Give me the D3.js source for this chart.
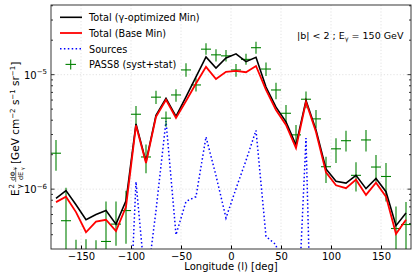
<!DOCTYPE html>
<html>
<head>
<meta charset="utf-8">
<script src="https://cdn.jsdelivr.net/npm/d3@7"></script>
<style>
  body { margin: 0; background: #fff; }
  svg { display: block; font-family: "DejaVu Sans", sans-serif; }
</style>
</head>
<body>
<svg id="chart" width="417" height="278"></svg>
<script>
// Longitude bin centres (deg)
const lon = [-175, -165, -155, -145, -135, -125, -115, -105, -95, -85, -75, -65, -55, -45, -35, -25, -15, -5,
             5, 15, 25, 35, 45, 55, 65, 75, 85, 95, 105, 115, 125, 135, 145, 155, 165, 175];

// Total (gamma-optimized Min)
const totalGamma = [8.3e-7, 9.7e-7, 7.3e-7, 5.4e-7, 6.0e-7, 6.5e-7, 4.95e-7, 7.9e-7, 3.71e-6, 1.73e-6, 4.41e-6, 6.2e-6,
                    4.32e-6, 6.39e-6, 9.55e-6, 1.43e-5, 1.14e-5, 1.40e-5, 1.52e-5, 1.30e-5, 1.42e-5, 7.8e-6, 5.2e-6, 3.87e-6,
                    2.43e-6, 5.96e-6, 3.29e-6, 1.50e-6, 1.17e-6, 1.13e-6, 1.32e-6, 1.01e-6, 1.24e-6, 9.5e-7, 4.8e-7, 6.2e-7];

// Total (Base Min)
const totalBase = [7.7e-7, 8.6e-7, 6.3e-7, 4.2e-7, 5.2e-7, 5.4e-7, 4.3e-7, 7.0e-7, 3.6e-6, 1.69e-6, 4.28e-6, 6.02e-6,
                   4.19e-6, 5.89e-6, 8.38e-6, 1.17e-5, 9.17e-6, 1.06e-5, 1.08e-5, 1.05e-5, 1.19e-5, 7.35e-6, 4.92e-6, 3.64e-6,
                   2.28e-6, 5.78e-6, 3.16e-6, 1.40e-6, 1.08e-6, 1.02e-6, 1.21e-6, 8.9e-7, 1.14e-6, 8.6e-7, 4.07e-7, 5.4e-7];

// Sources (many bins lie below the plotted range)
const sources = [1e-9, 1e-9, 1e-9, 1e-9, 1e-9, 1e-9, 1e-9, 1.3e-8, 1.16e-6, 1.3e-7, 6.5e-7, 3.94e-6,
                 3.99e-7, 7.8e-7, 8.6e-7, 2.86e-6, 1.31e-6, 5.6e-7, 1.01e-6, 1.78e-6, 3.26e-6, 3.86e-7, 3.27e-7, 1.3e-7,
                 3.4e-8, 2.79e-6, 1e-9, 1e-9, 1e-9, 1e-9, 1e-9, 1e-9, 1e-9, 1e-9, 1e-9, 1e-9];

// PASS8 (syst+stat): central value, upper and lower edge of the error bar
const pass8 = [2.06e-6, 5.3e-7, 1.5e-7, 1.5e-7, 1.5e-7, 3.49e-7, 4.95e-7, 6.5e-7, 4.51e-6, 1.91e-6, 6.36e-6, 4.17e-6,
               6.65e-6, 1.10e-5, 8.13e-6, 1.67e-5, 1.49e-5, 1.46e-5, 1.10e-5, 1.36e-5, 1.72e-5, 1.12e-5, 7.35e-6, 4.6e-6,
               2.98e-6, 6.1e-6, 4.11e-6, 1.57e-6, 2.25e-6, 2.65e-6, 1.32e-6, 2.69e-6, 1.56e-6, 1.29e-6, 4.53e-7, 4.91e-7];
const pass8Hi = [2.69e-6, 1.03e-6, 3.61e-7, 3.65e-7, 3.57e-7, 7.8e-7, 7.8e-7, 9.66e-7, 5.33e-6, 2.46e-6, 7.24e-6, 4.76e-6,
                 7.46e-6, 1.26e-5, 9.3e-6, 1.88e-5, 1.67e-5, 1.64e-5, 1.24e-5, 1.52e-5, 1.94e-5, 1.28e-5, 8.51e-6, 5.44e-6,
                 3.64e-6, 7.11e-6, 4.92e-6, 1.92e-6, 2.79e-6, 3.23e-6, 1.72e-6, 3.29e-6, 1.99e-6, 1.69e-6, 7.05e-7, 7.74e-7];
const pass8Lo = [1.45e-6, 1e-8, 1e-8, 1e-8, 1e-8, 1e-8, 3.2e-7, 3.34e-7, 3.64e-6, 1.38e-6, 5.55e-6, 3.5e-6,
                 5.81e-6, 9.61e-6, 7.11e-6, 1.49e-5, 1.3e-5, 1.3e-5, 9.61e-6, 1.22e-5, 1.52e-5, 9.75e-6, 6.1e-6, 3.77e-6,
                 2.36e-6, 5.09e-6, 3.4e-6, 1.13e-6, 1.69e-6, 2.13e-6, 9.53e-7, 2.13e-6, 1.16e-6, 7.8e-7, 1e-8, 1e-8];
const binHalfWidth = 5;

const xTicks = [-150, -100, -50, 0, 50, 100, 150];
const yMajor = [1e-6, 1e-5];
const yMinor = [4e-7, 5e-7, 6e-7, 7e-7, 8e-7, 9e-7, 2e-6, 3e-6, 4e-6, 5e-6, 6e-6, 7e-6, 8e-6, 9e-6, 2e-5, 3e-5, 4e-5];

const margin = { left: 51, right: 411, top: 5, bottom: 249 };
const svg = d3.select("#chart");

const x = d3.scaleLinear().domain([-180, 180]).range([margin.left, margin.right]);
const y = d3.scaleLog().domain([3.0e-7, 4.06e-5]).range([margin.bottom, margin.top]);

svg.append("defs").append("clipPath").attr("id", "plotClip")
  .append("rect")
  .attr("x", margin.left).attr("y", margin.top)
  .attr("width", margin.right - margin.left).attr("height", margin.bottom - margin.top);

// Grid
const grid = svg.append("g").attr("stroke", "#d0d0d0").attr("stroke-width", 0.6).attr("stroke-dasharray", "1.2,2");
grid.selectAll(".gx").data(xTicks).join("line")
  .attr("x1", d => x(d)).attr("x2", d => x(d))
  .attr("y1", margin.top).attr("y2", margin.bottom);
grid.selectAll(".gy").data(yMajor).join("line")
  .attr("y1", d => y(d)).attr("y2", d => y(d))
  .attr("x1", margin.left).attr("x2", margin.right);

const plot = svg.append("g").attr("clip-path", "url(#plotClip)");

// Sources (dotted blue)
plot.append("path")
  .datum(sources)
  .attr("fill", "none").attr("stroke", "blue").attr("stroke-width", 1.5)
  .attr("stroke-dasharray", "1.5,2.4")
  .attr("d", d3.line().x((d, i) => x(lon[i])).y(d => y(d)));

// PASS8 error bars
const pts = plot.append("g").attr("stroke", "green").attr("stroke-width", 1.1);
pts.selectAll(".ev").data(pass8).join("line")
  .attr("x1", (d, i) => x(lon[i])).attr("x2", (d, i) => x(lon[i]))
  .attr("y1", (d, i) => y(pass8Hi[i])).attr("y2", (d, i) => y(pass8Lo[i]));
pts.selectAll(".eh").data(pass8).join("line")
  .attr("x1", (d, i) => x(lon[i] - binHalfWidth)).attr("x2", (d, i) => x(lon[i] + binHalfWidth))
  .attr("y1", d => y(d)).attr("y2", d => y(d));

// Totals
plot.append("path")
  .datum(totalGamma)
  .attr("fill", "none").attr("stroke", "black").attr("stroke-width", 1.6)
  .attr("d", d3.line().x((d, i) => x(lon[i])).y(d => y(d)));
plot.append("path")
  .datum(totalBase)
  .attr("fill", "none").attr("stroke", "red").attr("stroke-width", 1.8)
  .attr("d", d3.line().x((d, i) => x(lon[i])).y(d => y(d)));

// Axes (ticks pointing inward)
const xAxis = svg.append("g").attr("transform", `translate(0,${margin.bottom})`)
  .call(d3.axisBottom(x).tickValues(xTicks).tickSizeInner(-3.5).tickSizeOuter(0).tickPadding(3.5));
xAxis.select(".domain").remove();
xAxis.selectAll("text").attr("font-size", 10).attr("font-family", "DejaVu Sans").attr("fill", "#000");

function yTicksOn(xPos, dir) {
  const g = svg.append("g").attr("stroke", "#000").attr("stroke-width", 0.8);
  g.selectAll(".maj").data(yMajor).join("line")
    .attr("x1", xPos).attr("x2", xPos + dir * 3.5)
    .attr("y1", d => y(d)).attr("y2", d => y(d));
  g.selectAll(".min").data(yMinor).join("line")
    .attr("x1", xPos).attr("x2", xPos + dir * 2)
    .attr("y1", d => y(d)).attr("y2", d => y(d));
}
yTicksOn(margin.left, 1);
yTicksOn(margin.right, -1);

const yLab = svg.append("g").attr("font-size", 10).attr("text-anchor", "end");
yMajor.forEach(v => {
  const t = yLab.append("text").attr("x", margin.left - 4).attr("y", y(v) + 4);
  t.append("tspan").text("10");
  t.append("tspan").attr("font-size", 7).attr("dy", -4.5).text("−" + Math.round(-Math.log10(v)));
});

// Frame
svg.append("rect")
  .attr("x", margin.left).attr("y", margin.top)
  .attr("width", margin.right - margin.left).attr("height", margin.bottom - margin.top)
  .attr("fill", "none").attr("stroke", "#222").attr("stroke-width", 0.9);

// X label
svg.append("text").attr("x", (margin.left + margin.right) / 2).attr("y", 270)
  .attr("text-anchor", "middle").attr("font-size", 10).text("Longitude (l) [deg]");

// Y label (rotated)
const yl = svg.append("g").attr("transform", `translate(19,${(margin.top + margin.bottom) / 2}) rotate(-90)`)
  .attr("font-size", 10.5);
yl.append("text").attr("x", -69).attr("y", 0).text("E");
yl.append("text").attr("x", -61.5).attr("y", -5).attr("font-size", 7).text("2");
yl.append("text").attr("x", -61.5).attr("y", 3).attr("font-size", 7).text("γ");
yl.append("text").attr("x", -49).attr("y", -4.5).attr("font-size", 6.5).attr("text-anchor", "middle").text("dΦ");
yl.append("text").attr("x", -43).attr("y", -3).attr("font-size", 4.5).text("γ");
yl.append("line").attr("x1", -55).attr("x2", -40).attr("y1", -3.3).attr("y2", -3.3).attr("stroke", "#000").attr("stroke-width", 0.5);
yl.append("text").attr("x", -49).attr("y", 3.5).attr("font-size", 6.5).attr("text-anchor", "middle").text("dE");
yl.append("text").attr("x", -43).attr("y", 5).attr("font-size", 4.5).text("γ");
const unit = yl.append("text").attr("x", -37).attr("y", 0);
unit.append("tspan").text("[GeV cm");
unit.append("tspan").attr("font-size", 7).attr("dy", -4).text("−2");
unit.append("tspan").attr("dy", 4).text(" s");
unit.append("tspan").attr("font-size", 7).attr("dy", -4).text("−1");
unit.append("tspan").attr("dy", 4).text(" sr");
unit.append("tspan").attr("font-size", 7).attr("dy", -4).text("−1");
unit.append("tspan").attr("dy", 4).text("]");

// Legend
const legendItems = [
  { label: "Total (γ-optimized Min)", kind: "line", color: "black", width: 1.6 },
  { label: "Total (Base Min)", kind: "line", color: "red", width: 1.8 },
  { label: "Sources", kind: "dot", color: "blue", width: 1.5 },
  { label: "PASS8 (syst+stat)", kind: "err", color: "green", width: 1.1 }
];
const lg = svg.append("g").attr("font-size", 9.7);
legendItems.forEach((it, i) => {
  const cy = 17.3 + i * 15.7;
  if (it.kind === "err") {
    lg.append("line").attr("x1", 65.5).attr("x2", 76).attr("y1", cy).attr("y2", cy).attr("stroke", it.color).attr("stroke-width", it.width);
    lg.append("line").attr("x1", 70.7).attr("x2", 70.7).attr("y1", cy - 5).attr("y2", cy + 5).attr("stroke", it.color).attr("stroke-width", it.width);
  } else {
    lg.append("line").attr("x1", 60).attr("x2", 82).attr("y1", cy).attr("y2", cy)
      .attr("stroke", it.color).attr("stroke-width", it.width)
      .attr("stroke-dasharray", it.kind === "dot" ? "1.5,2.4" : null);
  }
  lg.append("text").attr("x", 89).attr("y", cy + 3.8).text(it.label);
});

// Annotation
const ann = svg.append("text").attr("x", 297).attr("y", 38.5).attr("font-size", 9.5);
ann.append("tspan").text("|b| < 2 ; E");
ann.append("tspan").attr("font-size", 6.5).attr("dy", 2.5).text("γ");
ann.append("tspan").attr("dy", -2.5).text(" = 150 GeV");
</script>
</body>
</html>
